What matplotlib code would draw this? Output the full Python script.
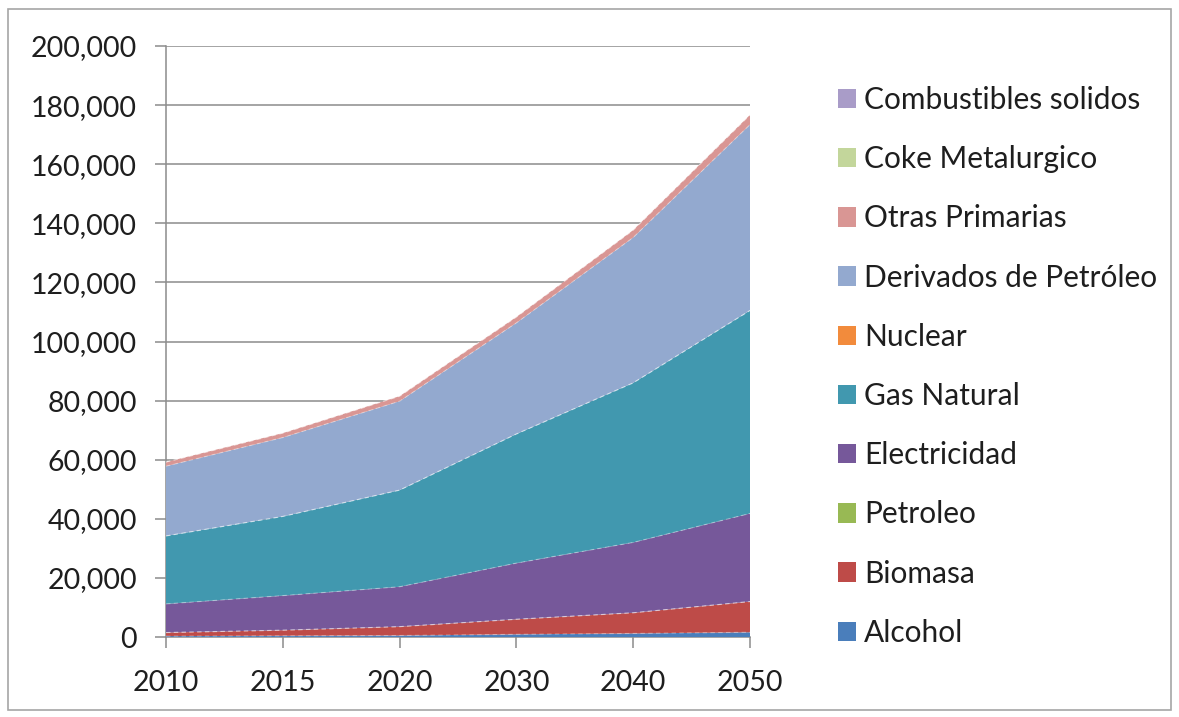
import matplotlib
matplotlib.use("Agg")
import matplotlib.pyplot as plt
from matplotlib.patches import Rectangle, Patch
from matplotlib.ticker import FuncFormatter, MultipleLocator

# Demand projection by energy source (stacked, bottom to top)
years = ["2010", "2015", "2020", "2030", "2040", "2050"]
series_names = [
    "Alcohol", "Biomasa", "Petroleo", "Electricidad", "Gas Natural",
    "Nuclear", "Derivados de Petróleo", "Otras Primarias",
    "Coke Metalurgico", "Combustibles solidos",
]
alcohol = [300, 400, 500, 900, 1200, 1600]
biomasa = [1200, 1900, 3000, 5100, 7000, 10400]
petroleo = [0, 0, 0, 0, 0, 0]
electricidad = [9700, 11700, 13500, 19000, 23800, 29800]
gas_natural = [23000, 26800, 32700, 43700, 54000, 68700]
nuclear = [0, 0, 0, 0, 0, 0]
derivados = [23600, 26700, 30100, 37600, 49200, 62900]
otras_primarias = [1400, 1500, 1700, 2000, 2500, 3300]
coke = [0, 0, 0, 0, 0, 0]
combustibles = [0, 0, 0, 0, 0, 0]

series_values = [alcohol, biomasa, petroleo, electricidad, gas_natural,
                 nuclear, derivados, otras_primarias, coke, combustibles]
colors = ["#4A7EBB", "#BE4B48", "#98B954", "#76589A", "#4198AF",
          "#F28B3C", "#93A9CF", "#D99694", "#C3D69B", "#A99CC8"]

plt.rcParams["font.family"] = ["Lato", "DejaVu Sans"]
W, H = 1179, 717
fig = plt.figure(figsize=(W / 100, H / 100), dpi=100)
fig.patch.set_facecolor("white")

# outer chart frame
fig.patches.append(Rectangle((8 / W, 1 - 710 / H), (1171 - 8) / W, (710 - 9) / H,
                             transform=fig.transFigure, fill=False,
                             edgecolor="#A6A6A6", linewidth=1.2))

ax = fig.add_axes([166 / W, 1 - 637 / H, (750 - 166) / W, (637 - 46) / H])
x = list(range(len(years)))
polys = ax.stackplot(x, *series_values, colors=colors, linewidth=0, zorder=3)

# faint seams between stacked layers
cum = [0] * len(years)
for vals in series_values[:-1]:
    cum = [c + v for c, v in zip(cum, vals)]
    ax.plot(x, cum, color="white", alpha=0.35, linewidth=0.8,
            linestyle=(0, (4, 3)), zorder=4)

ax.set_xlim(0, len(years) - 1)
ax.set_ylim(0, 200000)
ax.yaxis.set_major_locator(MultipleLocator(20000))
ax.yaxis.set_major_formatter(FuncFormatter(lambda v, p: f"{int(v):,}"))
ax.set_xticks(x)
ax.set_xticklabels(years)
ax.grid(axis="y", color="#8C8C8C", linewidth=1.1, zorder=1)
ax.set_axisbelow(True)
for side in ("top", "right"):
    ax.spines[side].set_visible(False)
ax.spines["left"].set_color("#8C8C8C")
ax.spines["bottom"].set_color("#8C8C8C")
ax.spines["left"].set_linewidth(1.1)
ax.spines["bottom"].set_linewidth(1.1)
ax.tick_params(axis="both", direction="out", length=8, width=1.1,
               color="#8C8C8C", labelsize=20.5, labelcolor="#1E1E1E")
ax.tick_params(axis="y", pad=13)
ax.tick_params(axis="x", pad=16)

handles = [Patch(facecolor=c, edgecolor="none") for c in colors]
leg = fig.legend(handles[::-1], series_names[::-1], loc="upper left",
                 bbox_to_anchor=(826 / W, 1 - 74 / H), frameon=False,
                 fontsize=21.5, labelspacing=1.045, handlelength=0.62,
                 handleheight=0.62, handletextpad=0.25, borderaxespad=0)
for t in leg.get_texts():
    t.set_color("#1E1E1E")

fig.savefig("out.png", dpi=100)
